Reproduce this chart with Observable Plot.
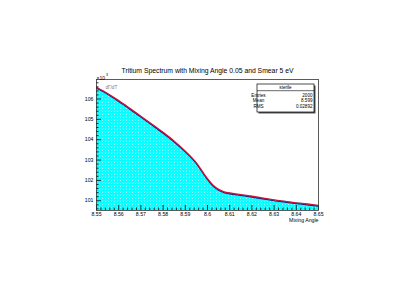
<!DOCTYPE html>
<html><head><meta charset="utf-8">
<script src="https://cdn.jsdelivr.net/npm/d3@7"></script>
<script src="https://cdn.jsdelivr.net/npm/@observablehq/plot@0.6"></script>
<style>body{margin:0;background:#fff} #chart{width:413px;height:292px}</style>
</head><body><div id="chart"></div>
<script>
// ---- data ----
const mixingAngle = [8.55, 8.555, 8.56, 8.565, 8.57, 8.575, 8.58, 8.585, 8.59, 8.595, 8.5975, 8.6, 8.6025, 8.605, 8.6075, 8.61, 8.615, 8.62, 8.625, 8.63, 8.635, 8.64, 8.645, 8.65];
const counts      = [106.58, 106.27, 105.92, 105.54, 105.15, 104.76, 104.36, 103.93, 103.44, 102.86, 102.47, 102.08, 101.76, 101.56, 101.44, 101.38, 101.30, 101.22, 101.13, 101.04, 100.97, 100.90, 100.84, 100.77];
const xTicks = [8.55, 8.56, 8.57, 8.58, 8.59, 8.60, 8.61, 8.62, 8.63, 8.64, 8.65];
const xTickLabels = ["8.55", "8.56", "8.57", "8.58", "8.59", "8.6", "8.61", "8.62", "8.63", "8.64", "8.65"];
const yTicks = [101, 102, 103, 104, 105, 106];
const yTickLabels = ["101", "102", "103", "104", "105", "106"];
const yDomain = [100.52, 106.96];
const xDomain = [8.55, 8.65];
const title = "Tritium Spectrum with Mixing Angle 0.05 and Smear 5 eV";
const xLabel = "Mixing Angle";
const yLabel = "dΓ/dT";
const statsName = "sterile";
const statsLabels = ["Entries", "Mean", "RMS"];
const statsValues = ["2000", "8.599", "0.02892"];

const data = mixingAngle.map((x, i) => ({x, y: counts[i]}));
const xMinor = d3.range(0, 51).map(i => xDomain[0] + i * 0.002).filter(v => !xTicks.some(t => Math.abs(t - v) < 1e-9));
const yMinor = d3.range(0, 40).map(i => 100.6 + i * 0.2).filter(v => v >= yDomain[0] && v <= yDomain[1] && !yTicks.some(t => Math.abs(t - v) < 1e-6));

const font = "'Liberation Sans', Arial, sans-serif";
const W = 413, H = 292, mL = 96, mR = 95, mT = 79, mB = 82;
const fw = W - mL - mR, fh = H - mT - mB;

const plot = Plot.plot({
  width: W, height: H, marginLeft: mL, marginRight: mR, marginTop: mT, marginBottom: mB,
  style: {fontFamily: font, background: "#fff", overflow: "visible"},
  x: {domain: xDomain, axis: null},
  y: {domain: yDomain, axis: null},
  marks: [
    Plot.areaY(data, {x: "x", y1: yDomain[0], y2: "y", fill: "url(#cyanfill)", curve: "monotone-x", clip: true}),
    Plot.line(data, {x: "x", y: "y", stroke: "#1a1a80", strokeWidth: 1.2, dy: 0.8, curve: "monotone-x", clip: true}),
    Plot.line(data, {x: "x", y: "y", stroke: "#d0103a", strokeWidth: 1.3, curve: "monotone-x", clip: true}),
    Plot.ruleX(xTicks, {x: d => d, insetTop: fh - 5, stroke: "#000", strokeWidth: 0.8}),
    Plot.ruleX(xMinor, {x: d => d, insetTop: fh - 2.5, stroke: "#000", strokeWidth: 0.8}),
    Plot.ruleY(yTicks, {y: d => d, insetRight: fw - 5, stroke: "#000", strokeWidth: 0.8}),
    Plot.ruleY(yMinor, {y: d => d, insetRight: fw - 2.5, stroke: "#000", strokeWidth: 0.8}),
    Plot.frame({stroke: "#333", strokeWidth: 0.8}),
    Plot.text(xTicks, {x: d => d, text: (d, i) => xTickLabels[i], frameAnchor: "bottom", dy: 5.5, fontSize: 5.2, fill: "#000"}),
    Plot.text(yTicks, {y: d => d, text: (d, i) => yTickLabels[i], frameAnchor: "left", dx: -3, textAnchor: "end", fontSize: 5.2, fill: "#000"}),
    Plot.text([title], {text: d => d, frameAnchor: "top", dy: -11, fontSize: 6.8, fill: "#000"}),
    Plot.text([xLabel], {text: d => d, frameAnchor: "bottom-right", dy: 11.5, textAnchor: "end", fontSize: 5.2, fill: "#000"}),
    Plot.text(["×10"], {text: d => d, frameAnchor: "top-left", dy: -3, dx: 0, textAnchor: "start", fontSize: 5, fill: "#000"}),
    Plot.text(["3"], {text: d => d, frameAnchor: "top-left", dy: -6, dx: 9.5, textAnchor: "start", fontSize: 3.5, fill: "#000"}),
    Plot.text([yLabel], {text: d => d, frameAnchor: "top-left", dy: 6, dx: 9, textAnchor: "start", fontSize: 4.6, fill: "#777"})
  ]
});

const svg = d3.select(plot);
const defs = svg.insert("defs", ":first-child");
const pat = defs.append("pattern").attr("id", "cyanfill").attr("patternUnits", "userSpaceOnUse").attr("width", 3).attr("height", 3);
pat.append("rect").attr("width", 3).attr("height", 3).attr("fill", "#00ffff");
pat.append("rect").attr("x", 0).attr("y", 0).attr("width", 1).attr("height", 1).attr("fill", "#9ffcff");
pat.append("rect").attr("x", 0).attr("y", 2).attr("width", 3).attr("height", 0.5).attr("fill", "#40f4ff");

// stats box
const bx = 257, by = 84, bw = 57, bh = 28;
const g = svg.append("g").attr("font-family", font);
g.append("rect").attr("x", bx + 1.5).attr("y", by + 1.5).attr("width", bw).attr("height", bh).attr("fill", "#555");
g.append("rect").attr("x", bx).attr("y", by).attr("width", bw).attr("height", bh).attr("fill", "#fff").attr("stroke", "#000").attr("stroke-width", 0.7);
g.append("line").attr("x1", bx).attr("x2", bx + bw).attr("y1", by + 6.7).attr("y2", by + 6.7).attr("stroke", "#000").attr("stroke-width", 0.6);
g.append("text").attr("x", bx + bw / 2).attr("y", by + 5).attr("text-anchor", "middle").attr("font-size", 4.6).text(statsName);
statsLabels.forEach((lab, i) => {
  const yy = by + 13 + i * 5.4;
  g.append("text").attr("x", bx + 1.5).attr("y", yy).attr("font-size", 4.6).text(lab);
  g.append("text").attr("x", bx + bw - 1.5).attr("y", yy).attr("text-anchor", "end").attr("font-size", 4.6).text(statsValues[i]);
});

document.getElementById("chart").appendChild(plot);
</script>
</body></html>
